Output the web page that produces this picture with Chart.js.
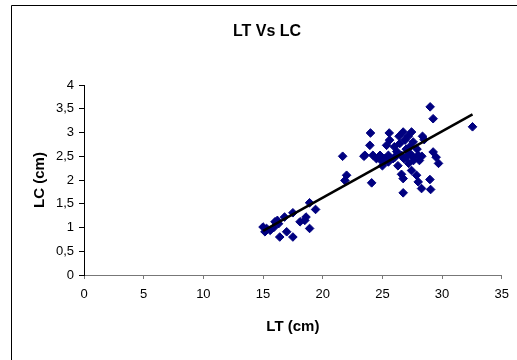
<!DOCTYPE html>
<html>
<head>
<meta charset="utf-8">
<script src="https://cdn.jsdelivr.net/npm/chart.js@4/dist/chart.umd.min.js"></script>
<style>
html,body{margin:0;padding:0;background:#fff;}
canvas{display:block;}
</style>
</head>
<body>
<canvas id="c" width="517" height="360"></canvas>
<script>
// LT (cm) values
const ltValues = [
  15.0, 15.16, 15.3, 15.6, 15.9, 16.0, 16.2, 16.3, 16.4, 16.8, 16.98, 17.5, 17.5, 18.1, 18.5, 18.6, 18.9, 18.9, 19.4,
  21.67, 22.0, 21.86, 23.45,
  24.0, 25.57, 26.74, 27.44, 28.36, 26.4, 27.16,
  23.95, 25.35, 26.46, 27.58, 26.9, 25.6,
  23.53, 24.2, 24.8, 25.5, 26.05, 26.6, 27.3, 28.0,
  24.9, 25.5, 25.9, 27.6, 28.1,
  29.25, 29.5, 29.7,
  27.44, 26.6, 26.74, 27.86, 28.0, 28.28, 28.98, 29.04, 24.1, 26.74,
  29.0, 29.25, 32.55,
  24.5, 25.2, 26.2, 26.8, 27.0, 27.9, 25.0, 28.3, 27.2, 26.3, 28.5, 26.3, 27.0, 27.6, 26.0, 27.3
];
// LC (cm) values
const lcValues = [
  1.01, 0.91, 0.98, 0.94, 1.0, 1.12, 1.15, 1.08, 0.80, 1.22, 0.91, 1.31, 0.80, 1.12, 1.15, 1.22, 1.52, 0.98, 1.38,
  2.50, 2.10, 1.99, 2.50,
  2.99, 2.99, 3.01, 3.01, 2.92, 2.92, 2.92,
  2.73, 2.73, 2.77, 2.80, 2.84, 2.84,
  2.52, 2.52, 2.52, 2.52, 2.48, 2.52, 2.56, 2.52,
  2.41, 2.38, 2.45, 2.41, 2.41,
  2.59, 2.48, 2.35,
  2.20, 2.12, 2.03, 2.10, 1.96, 1.82, 2.01, 1.80, 1.94, 1.73,
  3.54, 3.29, 3.12,
  2.45, 2.45, 2.60, 2.45, 2.65, 2.65, 2.30, 2.50, 2.35, 2.30, 2.85, 2.55, 2.48, 2.48, 2.70, 2.70
];
// linear trend line end points
const trendX = [15.0, 32.55];
const trendY = [0.93, 3.38];

const chartTitle = 'LT Vs LC';
const xTitle = 'LT (cm)';
const yTitle = 'LC (cm)';

const pts = ltValues.map((x, i) => ({x: x, y: lcValues[i]}));
const trend = trendX.map((x, i) => ({x: x, y: trendY[i]}));

const framePlugin = {
  id: 'frame',
  beforeDraw(chart) {
    const ctx = chart.ctx;
    ctx.save();
    ctx.fillStyle = '#fff';
    ctx.fillRect(0, 0, chart.width, chart.height);
    ctx.strokeStyle = '#000';
    ctx.lineWidth = 1;
    ctx.beginPath();
    ctx.moveTo(11.5, chart.height + 2);
    ctx.lineTo(11.5, 5.5);
    ctx.lineTo(chart.width + 2, 5.5);
    ctx.stroke();
    ctx.restore();
  }
};

const fmt = v => String(v).replace('.', ',');
const FONT = "'Liberation Sans', Arial, sans-serif";

new Chart(document.getElementById('c'), {
  type: 'scatter',
  data: {
    datasets: [
      {
        type: 'line',
        data: trend,
        borderColor: '#000',
        borderWidth: 2.5,
        pointRadius: 0,
        fill: false,
        tension: 0
      },
      {
        data: pts,
        pointStyle: 'rectRot',
        pointRadius: 4.3,
        backgroundColor: '#000080',
        borderColor: '#000080',
        borderWidth: 1
      }
    ]
  },
  options: {
    responsive: false,
    animation: false,
    events: [],
    layout: {padding: {top: 0, left: 32, right: 15, bottom: 0}},
    plugins: {
      legend: {display: false},
      tooltip: {enabled: false},
      title: {
        display: true,
        text: chartTitle,
        color: '#000',
        font: {family: FONT, size: 16, weight: 'bold'},
        padding: {top: 22, bottom: 43.8}
      }
    },
    scales: {
      x: {
        type: 'linear',
        min: 0, max: 35,
        afterFit(s) { s.height = 85; },
        ticks: {
          stepSize: 5,
          color: '#000',
          padding: 8,
          font: {family: FONT, size: 13},
          callback: v => fmt(v)
        },
        grid: {drawOnChartArea: false, drawTicks: true, tickLength: 4, color: '#777'},
        border: {display: true, color: '#777', width: 1},
        title: {
          display: true,
          text: xTitle,
          color: '#000',
          font: {family: FONT, size: 15, weight: 'bold'},
          padding: {top: 0, bottom: 24}
        }
      },
      y: {
        type: 'linear',
        min: 0, max: 4,
        afterFit(s) { s.width = 52; },
        ticks: {
          stepSize: 0.5,
          color: '#000',
          padding: 5,
          font: {family: FONT, size: 13},
          callback: v => fmt(v)
        },
        grid: {drawOnChartArea: false, drawTicks: true, tickLength: 5, color: '#000'},
        border: {display: true, color: '#000', width: 1},
        title: {
          display: true,
          text: yTitle,
          color: '#000',
          font: {family: FONT, size: 15, weight: 'bold', lineHeight: 1},
          padding: {top: 0, bottom: 0}
        }
      }
    }
  },
  plugins: [framePlugin]
});
</script>
</body>
</html>
